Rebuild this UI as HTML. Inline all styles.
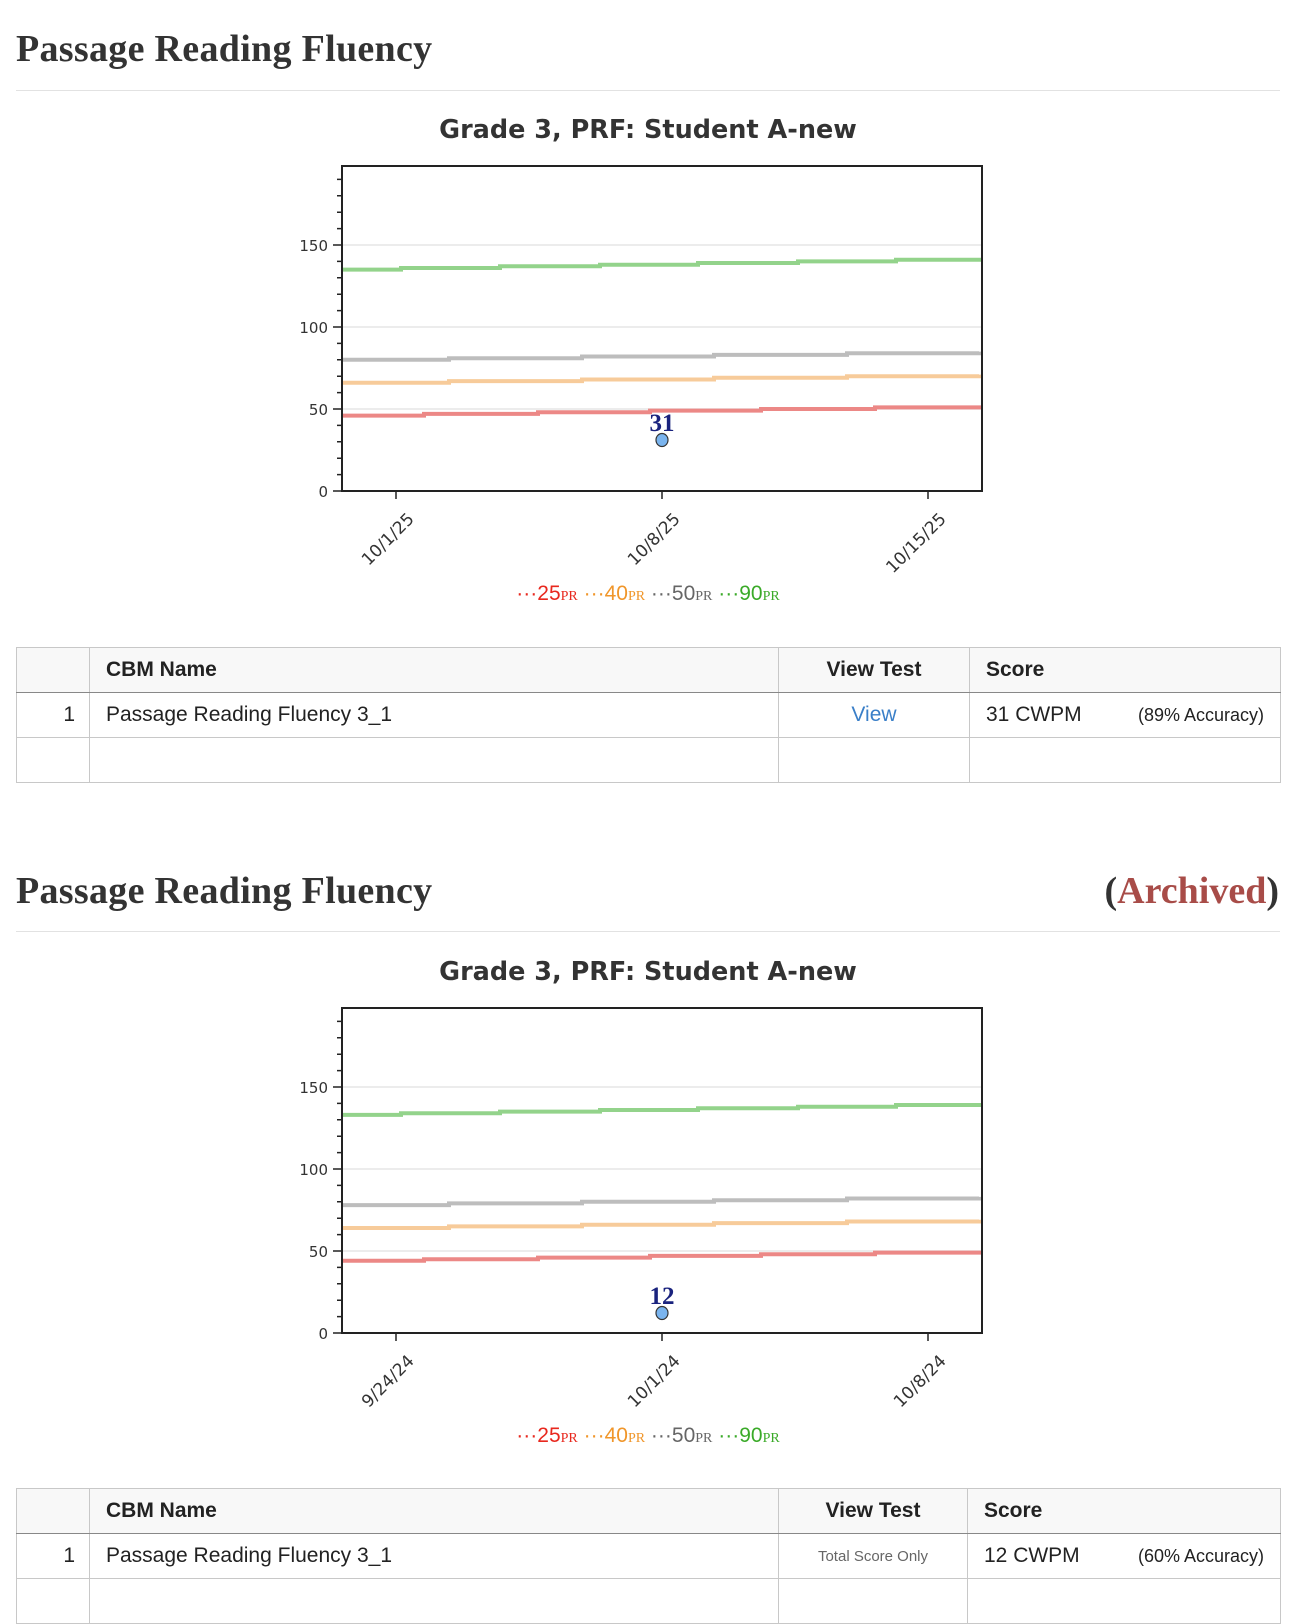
<!DOCTYPE html>
<html><head><meta charset="utf-8"><style>
body{margin:0;width:1296px;height:1596px;overflow:hidden;background:#fff;position:relative;font-family:"Liberation Sans",Arial,sans-serif;color:#222}
.h{position:absolute;left:16px;font-family:"Liberation Serif",serif;font-weight:bold;font-size:38px;color:#333;line-height:48px;letter-spacing:0.3px}
.rule{position:absolute;left:16px;width:1264px;height:1px;background:#e2e2e2}
.arch{position:absolute;right:17px;font-family:"Liberation Serif",serif;font-weight:bold;font-size:38px;color:#333;line-height:48px}
.arch span{color:#a84c48}
table{position:absolute;left:16px;width:1265px;border-collapse:collapse;font-size:21px;table-layout:fixed}
td,th{border:1px solid #c8c8c8;height:44px;padding:0 16px;text-align:left;white-space:nowrap}
table{border:1.5px solid #888}
tr.hd{background:#f8f8f8}
tr.hd th{border-bottom:1.5px solid #888;font-weight:bold;color:#222}
.n{text-align:right;padding-right:14px}
.c{text-align:center}
.acc{float:right;font-size:18px;margin-top:2px}
</style></head><body>
<div class="h" style="top:25px">Passage Reading Fluency</div>
<div class="rule" style="top:90px"></div>
<div class="h" style="top:867px">Passage Reading Fluency</div>
<div class="arch" style="top:867px">(<span>Archived</span>)</div>
<div class="rule" style="top:931px"></div>

<svg width="1296" height="1596" style="position:absolute;left:0;top:0" xmlns="http://www.w3.org/2000/svg">
<defs>
<g id="frame">
 <line x1="342" y1="409" x2="982" y2="409" stroke="#e6e6e6" stroke-width="1.5"/>
 <line x1="342" y1="327" x2="982" y2="327" stroke="#e6e6e6" stroke-width="1.5"/>
 <line x1="342" y1="245" x2="982" y2="245" stroke="#e6e6e6" stroke-width="1.5"/>
 <rect x="342" y="166" width="640" height="325" fill="none" stroke="#222" stroke-width="2"/>
 <path d="M342 491h-9M342 474.6h-5M342 458.2h-5M342 441.8h-5M342 425.4h-5M342 409h-9M342 392.6h-5M342 376.2h-5M342 359.8h-5M342 343.4h-5M342 327h-9M342 310.6h-5M342 294.2h-5M342 277.8h-5M342 261.4h-5M342 245h-9M342 228.6h-5M342 212.2h-5M342 195.8h-5M342 179.4h-5M396 491v8M662 491v8M928 491v8" stroke="#222" stroke-width="1.5"/>
 <g font-family="DejaVu Sans,sans-serif" font-size="15" fill="#333" text-anchor="end">
  <text x="328" y="497">0</text><text x="328" y="415">50</text><text x="328" y="333">100</text><text x="328" y="251">150</text>
 </g>
 <g font-family="Liberation Sans,sans-serif" font-size="21" text-anchor="middle">
  <text x="648" y="600"><tspan fill="#e8281e">···25</tspan><tspan fill="#e8281e" font-size="14" font-family="Liberation Serif,serif">PR</tspan><tspan fill="#f0962a"> ···40</tspan><tspan fill="#f0962a" font-size="14" font-family="Liberation Serif,serif">PR</tspan><tspan fill="#666"> ···50</tspan><tspan fill="#666" font-size="14" font-family="Liberation Serif,serif">PR</tspan><tspan fill="#3aaa28"> ···90</tspan><tspan fill="#3aaa28" font-size="14" font-family="Liberation Serif,serif">PR</tspan></text>
 </g>
 <text x="648" y="138" text-anchor="middle" font-family="DejaVu Sans,sans-serif" font-weight="bold" font-size="25.5" fill="#333">Grade 3, PRF: Student A-new</text>
</g>
</defs>

<use href="#frame"/>
<g fill="none" stroke-width="4">
 <path stroke="#93d38b" d="M343 269.6H401V268H500V266.3H600V264.7H698V263H798V261.4H896V259.8H981"/>
 <path stroke="#bdbdbd" d="M343 359.8H449V358.2H582V356.5H714V354.9H847V353.2H979V351.6"/>
 <path stroke="#f7cb9a" d="M343 382.8H449V381.1H582V379.5H714V377.8H847V376.2H979V374.6"/>
 <path stroke="#ec8886" d="M343 415.6H424V413.9H538V412.3H650V410.6H761V409H875V407.4H981"/>
</g>
<text x="662" y="431" text-anchor="middle" font-family="Liberation Serif,serif" font-weight="bold" font-size="25" fill="#1a237e">31</text>
<ellipse cx="662" cy="440" rx="6" ry="6.5" fill="#7ab4ee" stroke="#333" stroke-width="1.2"/>
<g font-family="DejaVu Sans,sans-serif" font-size="17" fill="#333" text-anchor="end">
 <text transform="translate(415,520) rotate(-45)">10/1/25</text>
 <text transform="translate(681,520) rotate(-45)">10/8/25</text>
 <text transform="translate(947,520) rotate(-45)">10/15/25</text>
</g>

<g transform="translate(0,842)">
<use href="#frame"/>
<g fill="none" stroke-width="4">
 <path stroke="#93d38b" d="M343 272.9H401V271.2H500V269.6H600V268H698V266.3H798V264.7H896V263H981"/>
 <path stroke="#bdbdbd" d="M343 363.1H449V361.4H582V359.8H714V358.2H847V356.5H979V354.9"/>
 <path stroke="#f7cb9a" d="M343 386H449V384.4H582V382.8H714V381.1H847V379.5H979V377.8"/>
 <path stroke="#ec8886" d="M343 418.8H424V417.2H538V415.6H650V413.9H761V412.3H875V410.6H981"/>
</g>
<text x="662" y="462" text-anchor="middle" font-family="Liberation Serif,serif" font-weight="bold" font-size="25" fill="#1a237e">12</text>
<ellipse cx="662" cy="471" rx="6" ry="6.5" fill="#7ab4ee" stroke="#333" stroke-width="1.2"/>
<g font-family="DejaVu Sans,sans-serif" font-size="17" fill="#333" text-anchor="end">
 <text transform="translate(415,520) rotate(-45)">9/24/24</text>
 <text transform="translate(681,520) rotate(-45)">10/1/24</text>
 <text transform="translate(947,520) rotate(-45)">10/8/24</text>
</g>
</g>
</svg>

<table style="top:647px">
<colgroup><col style="width:73px"><col style="width:689px"><col style="width:191px"><col></colgroup>
<tr class="hd"><th></th><th>CBM Name</th><th class="c">View Test</th><th>Score</th></tr>
<tr><td class="n">1</td><td>Passage Reading Fluency 3_1</td><td class="c" style="color:#3a7fc8">View</td><td>31 CWPM<span class="acc">(89% Accuracy)</span></td></tr>
<tr><td></td><td></td><td></td><td></td></tr>
</table>

<table style="top:1488px">
<colgroup><col style="width:73px"><col style="width:689px"><col style="width:189px"><col></colgroup>
<tr class="hd"><th></th><th>CBM Name</th><th class="c">View Test</th><th>Score</th></tr>
<tr><td class="n">1</td><td>Passage Reading Fluency 3_1</td><td class="c" style="color:#666;font-size:15px">Total Score Only</td><td>12 CWPM<span class="acc">(60% Accuracy)</span></td></tr>
<tr><td></td><td></td><td></td><td></td></tr>
</table>
</body></html>
